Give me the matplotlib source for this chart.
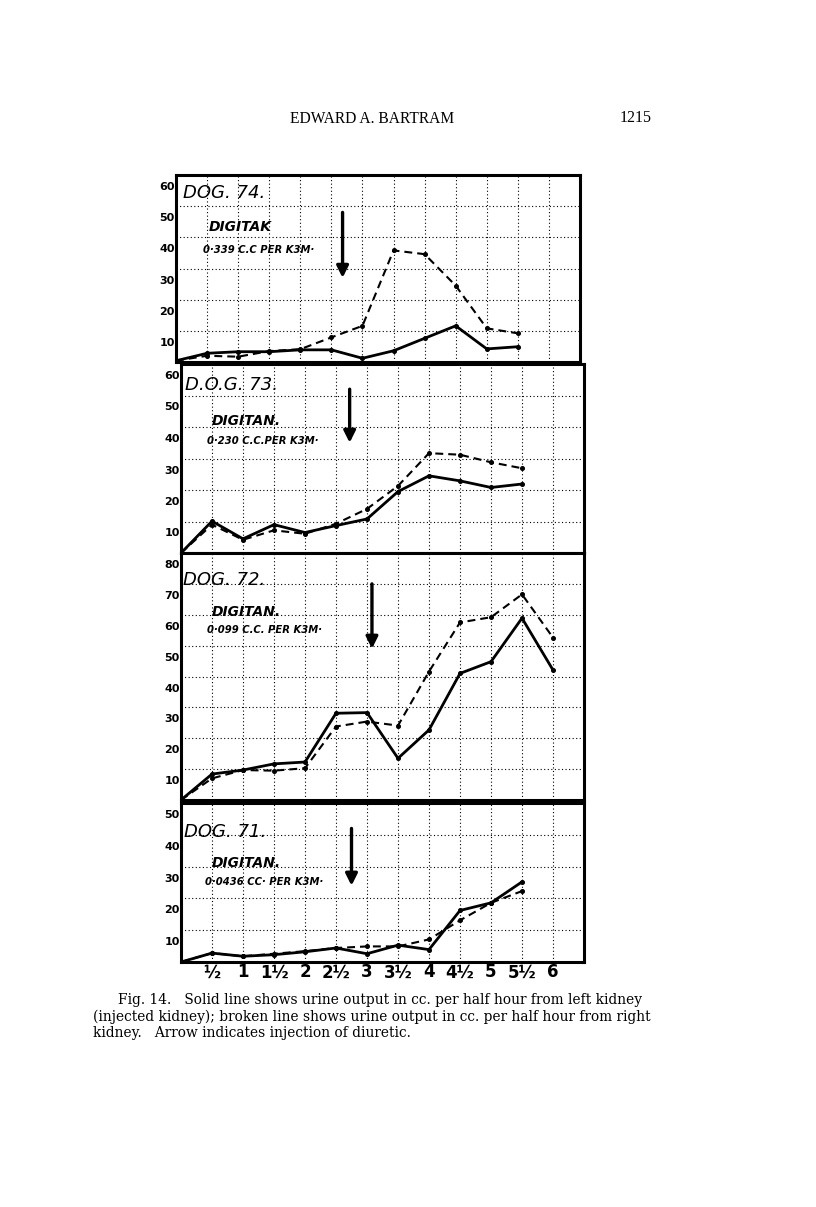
import matplotlib.pyplot as plt
from matplotlib.transforms import ScaledTranslation


W, H = 816, 1207

# half-hour periods
x_periods = [0, 0.5, 1, 1.5, 2, 2.5, 3, 3.5, 4, 4.5, 5, 5.5, 6]
x_tick_labels = ['½', '1', '1½', '2', '2½', '3', '3½', '4', '4½', '5', '5½', '6']

# urine output, cc per half hour (left = injected kidney, right = other)
dog74_left = [0.4, 2.8, 3.3, 3.3, 3.9, 3.9, 1.2, 3.6, 7.6, 11.6, 4.2, 4.9]
dog74_right = [0.4, 2.0, 1.7, 3.5, 4.1, 7.9, 11.6, 35.8, 34.6, 24.5, 10.8, 9.2]

dog73_left = [0, 10.1, 4.5, 9.0, 6.5, 8.7, 10.8, 19.5, 24.5, 22.9, 20.8, 21.9]
dog73_right = [0, 9.0, 4.2, 7.2, 6.1, 9.3, 14.0, 21.3, 31.7, 31.2, 28.8, 26.9]

dog72_left = [0, 8.4, 9.7, 11.7, 12.3, 28.1, 28.3, 13.5, 22.7, 41.0, 44.8, 58.9, 42.1]
dog72_right = [0, 7.0, 9.7, 9.5, 10.3, 23.8, 25.4, 24.1, 41.6, 57.5, 59.2, 66.6, 52.6]

dog71_left = [0, 2.8, 1.8, 2.3, 3.2, 4.4, 2.6, 5.3, 3.9, 16.2, 18.6, 25.2]
dog71_right = [0, 2.8, 1.8, 2.6, 3.4, 4.4, 4.9, 4.9, 7.1, 13.1, 18.6, 22.3]

dog_names = ['DOG. 74.', 'D.O.G. 73.', 'DOG. 72.', 'DOG. 71.']
drug_names = ['DIGITAK', 'DIGITAN.', 'DIGITAN.', 'DIGITAN.']
doses = ['0·339 C.C PER K3M·', '0·230 C.C.PER K3M·', '0·099 C.C. PER K3M·', '0·0436 CC· PER K3M·']
y_max = [60, 60, 80, 50]

# injection arrows (x in periods, from top value down to bottom value)
arrow_x = [2.68, 2.72, 3.08, 2.75]
arrow_top = [48, 52, 70, 42]
arrow_bottom = [27, 35, 49, 24]

panel_left = [dog74_left, dog73_left, dog72_left, dog71_left]
panel_right = [dog74_right, dog73_right, dog72_right, dog71_right]

# panel boxes in pixels: left, top, right, bottom
boxes = [(176, 175, 580, 362), (181, 364, 584, 553), (181, 553, 584, 800), (181, 803, 584, 962)]
# text anchors in axes fraction: (x, y) for dog name, drug, dose
name_pos = [(0.017, 0.904), (0.010, 0.889), (0.005, 0.891), (0.007, 0.818)]
drug_pos = [(0.082, 0.722), (0.077, 0.698), (0.077, 0.761), (0.077, 0.623)]
dose_pos = [(0.067, 0.599), (0.065, 0.593), (0.065, 0.688), (0.060, 0.503)]


def px_rect(left, top, right, bottom):
    return [left / W, 1 - bottom / H, (right - left) / W, (bottom - top) / H]


fig = plt.figure(figsize=(W / 100, H / 100), dpi=100)
fig.patch.set_facecolor('white')

for i in range(4):
    ax = fig.add_axes(px_rect(*boxes[i]))
    left = panel_left[i]
    right = panel_right[i]
    ax.plot(x_periods[:len(right)], right, color='black', lw=1.5, dashes=(3.8, 2.4),
            marker='o', markersize=2.6, zorder=3)
    ax.plot(x_periods[:len(left)], left, color='black', lw=2.0,
            marker='o', markersize=2.6, zorder=4)

    ax.annotate('', xy=(arrow_x[i], arrow_bottom[i]), xytext=(arrow_x[i], arrow_top[i]),
                arrowprops=dict(arrowstyle='-|>,head_length=0.7,head_width=0.35',
                                color='black', lw=2.4, shrinkA=0, shrinkB=0))

    ax.set_xlim(0, 6.5)
    ax.set_ylim(0, y_max[i])
    ax.set_xticks(x_periods)
    ax.set_yticks(list(range(10, y_max[i] + 1, 10)))
    ax.grid(True, color='black', lw=0.8, linestyle=(0, (1, 2.2)))
    ax.set_axisbelow(True)
    for s in ax.spines.values():
        s.set_linewidth(2.2)
    ax.tick_params(length=0, labelsize=8, pad=1)
    ax.set_yticklabels([str(v) for v in range(10, y_max[i] + 1, 10)], fontweight='bold')
    # hand-lettered labels sit a little under their grid lines
    shift = ScaledTranslation(0, -0.11, fig.dpi_scale_trans)
    for lab in ax.get_yticklabels():
        lab.set_transform(lab.get_transform() + shift)

    if i == 3:
        ax.set_xticklabels([''] + x_tick_labels, fontsize=12, fontweight='bold')
    else:
        ax.set_xticklabels([])

    ax.text(*name_pos[i], dog_names[i], transform=ax.transAxes, fontsize=13,
            va='center', ha='left', fontstyle='italic')
    ax.text(*drug_pos[i], drug_names[i], transform=ax.transAxes, fontsize=10,
            va='center', ha='left', fontweight='bold', fontstyle='italic')
    ax.text(*dose_pos[i], doses[i], transform=ax.transAxes, fontsize=7.2,
            va='center', ha='left', fontweight='bold', fontstyle='italic')

# page header and caption
serif = 'DejaVu Serif'
fig.text(290 / W, 1 - 119 / H, 'EDWARD A. BARTRAM', family='Liberation Serif', fontsize=11.2,
         va='center', ha='left')
fig.text(652 / W, 1 - 118 / H, '1215', family='Liberation Serif', fontsize=11.5,
         va='center', ha='right')

caption = ['Fig. 14.   Solid line shows urine output in cc. per half hour from left kidney',
           '(injected kidney); broken line shows urine output in cc. per half hour from right',
           'kidney.   Arrow indicates injection of diuretic.']
cap_x = [118, 93, 93]
cap_y = [1000, 1017, 1033]
for line, cx, cy in zip(caption, cap_x, cap_y):
    fig.text(cx / W, 1 - cy / H, line, family=serif, fontsize=9.9, va='center', ha='left')

fig.savefig('out.png', dpi=100)
